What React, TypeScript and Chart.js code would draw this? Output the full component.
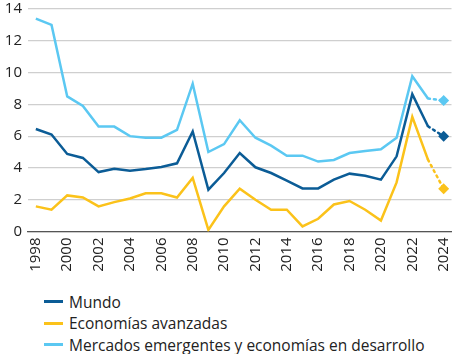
import React, { useEffect, useRef } from "react";
import { Chart, registerables } from "chart.js";

Chart.register(...registerables);

const years = [
  "1998", "1999", "2000", "2001", "2002", "2003", "2004", "2005", "2006", "2007",
  "2008", "2009", "2010", "2011", "2012", "2013", "2014", "2015", "2016", "2017",
  "2018", "2019", "2020", "2021", "2022", "2023", "2024",
];

const mundo = [
  6.45, 6.1, 4.88, 4.63, 3.74, 3.95, 3.83, 3.93, 4.06, 4.29,
  6.29, 2.63, 3.68, 4.94, 4.04, 3.68, 3.2, 2.71, 2.71, 3.26,
  3.64, 3.51, 3.26, 4.73, 8.64, 6.62, 5.99,
];

const avanzadas = [
  1.58, 1.37, 2.27, 2.14, 1.58, 1.85, 2.08, 2.4, 2.4, 2.14,
  3.37, 0.1, 1.58, 2.69, 2.0, 1.37, 1.37, 0.32, 0.8, 1.7,
  1.92, 1.37, 0.69, 3.09, 7.21, 4.52, 2.69,
];

const emergentes = [
  13.4, 13.0, 8.5, 7.9, 6.6, 6.6, 6.0, 5.9, 5.9, 6.4,
  9.3, 5.0, 5.5, 7.0, 5.9, 5.4, 4.77, 4.77, 4.4, 4.5,
  4.94, 5.07, 5.17, 5.9, 9.77, 8.37, 8.24,
];

const seriesNames = ["Mundo", "Economías avanzadas", "Mercados emergentes y economías en desarrollo"];
const seriesColors = ["#0B5C96", "#FBC21A", "#5BC8F2"];

const FONT = "'Open Sans', sans-serif";
const CANVAS_W = 457;
const CANVAS_H = 282;
const LAST = years.length - 1;

export default function App() {
  const ref = useRef<HTMLCanvasElement | null>(null);

  useEffect(() => {
    if (!ref.current) return;
    const seriesData = [mundo, avanzadas, emergentes];
    const datasets = seriesData.map((d, i) => ({
      label: seriesNames[i],
      data: d,
      borderColor: seriesColors[i],
      backgroundColor: seriesColors[i],
      borderWidth: 2.5,
      tension: 0,
      pointStyle: "rectRot" as const,
      pointRadius: (ctx: any) => (ctx.dataIndex === LAST ? 5.5 : 0),
      pointHoverRadius: 0,
      pointBorderWidth: 0,
      segment: {
        borderDash: (ctx: any) => (ctx.p0DataIndex === LAST - 1 ? [2, 4] : undefined),
        borderCapStyle: (ctx: any) => (ctx.p0DataIndex === LAST - 1 ? "round" : "butt"),
      },
    }));
    datasets.reverse();

    const chart = new Chart(ref.current, {
      type: "line",
      data: { labels: years, datasets },
      options: {
        animation: false,
        responsive: false,
        maintainAspectRatio: false,
        layout: { padding: { top: 9, right: 0, left: 0, bottom: 0 } },
        plugins: { legend: { display: false }, tooltip: { enabled: false } },
        scales: {
          x: {
            type: "category",
            offset: true,
            grid: { display: false, drawTicks: false },
            border: { display: true, color: "#555555", width: 1.2 },
            ticks: {
              autoSkip: false,
              maxRotation: 90,
              minRotation: 90,
              padding: 6,
              color: "#222222",
              font: { family: FONT, size: 15 },
              callback: (_v: any, i: number) => (i % 2 === 0 ? years[i] : ""),
            },
            afterFit: (s: any) => {
              s.height = CANVAS_H - 231.5;
              s.paddingRight = 0;
              s.paddingLeft = 0;
            },
          },
          y: {
            min: 0,
            max: 14,
            grid: { color: "#cfcfcf", lineWidth: 1.2, drawTicks: false },
            border: { display: false },
            ticks: {
              stepSize: 2,
              padding: 6,
              color: "#222222",
              font: { family: FONT, size: 15 },
            },
            afterFit: (s: any) => {
              s.width = 28;
              s.paddingTop = 0;
              s.paddingBottom = 0;
            },
          },
        },
      },
    });
    return () => chart.destroy();
  }, []);

  return (
    <div style={{ position: "absolute", left: 0, top: 0, width: 452, height: 354, background: "#fff", fontFamily: FONT, overflow: "hidden" }}>
      <canvas ref={ref} width={CANVAS_W} height={CANVAS_H} style={{ display: "block", width: CANVAS_W, height: CANVAS_H }} />
      <div style={{ position: "absolute", left: 44, top: 291 }}>
        {seriesNames.map((n, i) => (
          <div key={n} style={{ display: "flex", alignItems: "center", height: 21.5, fontSize: 15.5, color: "#222", whiteSpace: "nowrap" }}>
            <span style={{ display: "inline-block", width: 19, height: 3, background: seriesColors[i], marginRight: 6 }} />
            <span>{n}</span>
          </div>
        ))}
      </div>
    </div>
  );
}
